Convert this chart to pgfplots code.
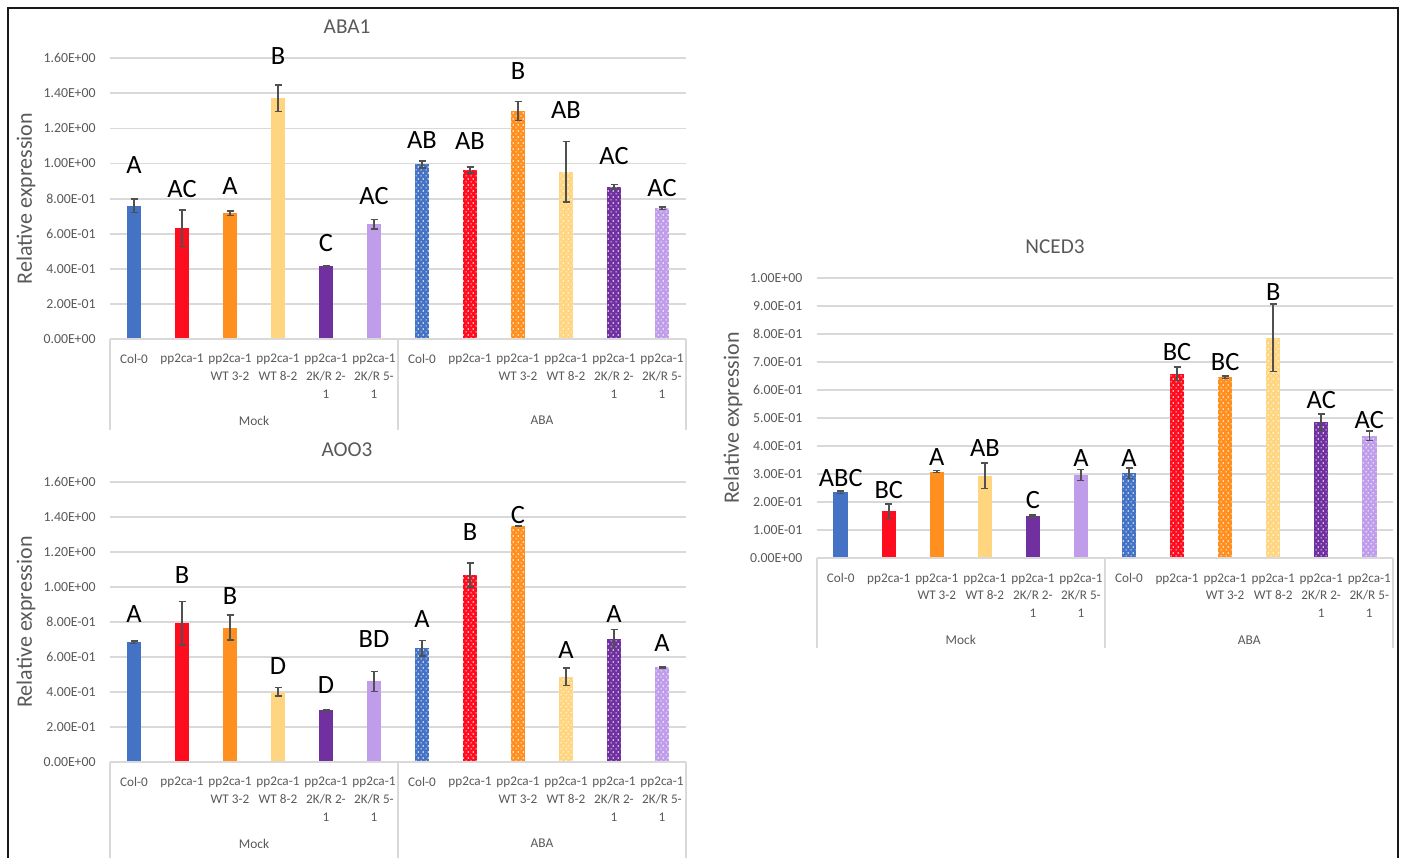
\documentclass[border=0pt]{standalone}
\usepackage{pgfplots}
\pgfplotsset{compat=1.18}
\usepackage{fontspec}
\setmainfont{Carlito}
\usetikzlibrary{patterns.meta}

\definecolor{cblue}{HTML}{4472C4}
\definecolor{cred}{HTML}{FF0D1E}
\definecolor{corange}{HTML}{FF8F1F}
\definecolor{cyellow}{HTML}{FFD580}
\definecolor{cpurple}{HTML}{7030A0}
\definecolor{clav}{HTML}{BF9DEB}
\definecolor{gridgray}{HTML}{D9D9D9}
\definecolor{txtgray}{HTML}{595959}
\definecolor{errgray}{HTML}{505050}

\newcommand{\tickfont}{\fontsize{6.9}{8}\selectfont}
\newcommand{\catfont}{\fontsize{6.6}{8.85}\selectfont}
\newcommand{\titfont}{\fontsize{10.6}{12}\selectfont}
\newcommand{\labfont}{\fontsize{11}{13}\selectfont}
\newcommand{\letfont}{\fontsize{13.2}{15}\selectfont}
\newcommand{\grpfont}{\fontsize{6.7}{8}\selectfont}

\pgfdeclarepattern{
  name=wdots,
  type=uncolored,
  bottom left={\pgfpoint{0pt}{0pt}},
  top right={\pgfpoint{2.5pt}{3.2pt}},
  tile size={\pgfpoint{2.5pt}{3.2pt}},
  code={
    \pgfpathrectangle{\pgfpoint{0.3pt}{0.3pt}}{\pgfpoint{0.65pt}{0.65pt}}
    \pgfpathrectangle{\pgfpoint{1.55pt}{1.9pt}}{\pgfpoint{0.65pt}{0.65pt}}
    \pgfusepath{fill}
  }
}

\pgfplotsset{
  mockbar/.style={ybar, bar width=7.25pt, bar shift=0pt, draw=none, fill=#1,
    /pgfplots/error bars/y dir=both, /pgfplots/error bars/y explicit},
  ababar/.style={postaction={pattern=wdots, pattern color=white}, mockbar=#1},
  letters/.style={draw=none, mark=none, nodes near coords, point meta=explicit symbolic,
    nodes near coords align={center},
    every node near coord/.append style={anchor=base, font=\letfont, text=black, inner sep=0pt}},
  excel/.style={
    scale only axis, width=288pt, height=140.35pt,
    xmin=-0.5, xmax=11.5, ymin=0,
    axis line style={draw=none},
    ymajorgrids, grid style={line width=0.9pt, gridgray},
    major tick length=0pt,
    xtick={0,...,11},
    xticklabels={Col-0, pp2ca-1, {pp2ca-1\\WT 3-2}, {pp2ca-1\\WT 8-2}, {pp2ca-1\\2K/R 2-\\1}, {pp2ca-1\\2K/R 5-\\1},
                 Col-0, pp2ca-1, {pp2ca-1\\WT 3-2}, {pp2ca-1\\WT 8-2}, {pp2ca-1\\2K/R 2-\\1}, {pp2ca-1\\2K/R 5-\\1}},
    xticklabel style={font=\catfont, text=txtgray, align=center, anchor=north, inner sep=0pt, yshift=-7.5pt},
    yticklabel style={font=\tickfont, text=txtgray, anchor=east, inner sep=0pt, xshift=-7pt},
    ylabel={Relative expression},
    ylabel style={font=\labfont, text=txtgray, at={(axis description cs:-0.146,0.5)}, anchor=center},
    every axis title shift=0pt,
    title style={font=\titfont, text=txtgray, anchor=center},
    clip=false,
    error bars/error bar style={line width=0.75pt, errgray},
    error bars/error mark options={rotate=90, mark size=1.75pt, line width=0.75pt, errgray},
  },
}

\newcommand{\decor}[1]{%
  \draw[gridgray, line width=0.9pt] (axis cs:-0.5,0) -- (axis cs:11.5,0);
  \draw[gridgray, line width=0.9pt] (axis cs:-0.5,0) -- ++(0pt,-#1);
  \draw[gridgray, line width=0.9pt] (axis cs:5.5,0) -- ++(0pt,-#1);
  \draw[gridgray, line width=0.9pt] (axis cs:11.5,0) -- ++(0pt,-#1);
  \node[font=\grpfont, text=txtgray, anchor=center] at ([yshift=-40.85pt]axis cs:2.5,0) {Mock};
  \node[font=\grpfont, text=txtgray, anchor=center] at ([yshift=-40.85pt]axis cs:8.5,0) {ABA};
}

\begin{document}
\begin{tikzpicture}

% ---------------- ABA1 ----------------
\begin{axis}[excel, at={(55pt,259pt)}, anchor=south west,
  ymax=1.6, ytick={0,0.2,0.4,0.6,0.8,1.0,1.2,1.4,1.6},
  yticklabels={0.00E+00,2.00E-01,4.00E-01,6.00E-01,8.00E-01,1.00E+00,1.20E+00,1.40E+00,1.60E+00},
  title={ABA1}, title style={at={(axis description cs:0.4115,1.1126)}}]
\addplot[mockbar=cblue]   coordinates {(0,0.760) +- (0,0.038)};
\addplot[mockbar=cred]    coordinates {(1,0.631) +- (0,0.105)};
\addplot[mockbar=corange] coordinates {(2,0.717) +- (0,0.012)};
\addplot[mockbar=cyellow] coordinates {(3,1.372) +- (0,0.076)};
\addplot[mockbar=cpurple] coordinates {(4,0.416) +- (0,0.004)};
\addplot[mockbar=clav]    coordinates {(5,0.654) +- (0,0.028)};
\addplot[ababar=cblue]    coordinates {(6,0.996) +- (0,0.020)};
\addplot[ababar=cred]     coordinates {(7,0.963) +- (0,0.016)};
\addplot[ababar=corange]  coordinates {(8,1.300) +- (0,0.055)};
\addplot[ababar=cyellow]  coordinates {(9,0.954) +- (0,0.173)};
\addplot[ababar=cpurple]  coordinates {(10,0.868) +- (0,0.013)};
\addplot[ababar=clav]     coordinates {(11,0.745) +- (0,0.008)};
\addplot[letters] coordinates {(0,0.941)[A] (1,0.804)[AC] (2,0.821)[A] (3,1.562)[B] (4,0.498)[C] (5,0.764)[AC]
  (6,1.087)[AB] (7,1.078)[AB] (8,1.477)[B] (9,1.258)[AB] (10,0.992)[AC] (11,0.811)[AC]};
\decor{45.5pt}
\end{axis}

% ---------------- AOO3 ----------------
\begin{axis}[excel, at={(55pt,47.65pt)}, anchor=south west, height=139.7pt,
  ymax=1.6, ytick={0,0.2,0.4,0.6,0.8,1.0,1.2,1.4,1.6},
  yticklabels={0.00E+00,2.00E-01,4.00E-01,6.00E-01,8.00E-01,1.00E+00,1.20E+00,1.40E+00,1.60E+00},
  title={AOO3}, title style={at={(axis description cs:0.4115,1.1156)}}]
\addplot[mockbar=cblue]   coordinates {(0,0.684) +- (0,0.006)};
\addplot[mockbar=cred]    coordinates {(1,0.793) +- (0,0.124)};
\addplot[mockbar=corange] coordinates {(2,0.768) +- (0,0.072)};
\addplot[mockbar=cyellow] coordinates {(3,0.400) +- (0,0.024)};
\addplot[mockbar=cpurple] coordinates {(4,0.295) +- (0,0.004)};
\addplot[mockbar=clav]    coordinates {(5,0.460) +- (0,0.057)};
\addplot[ababar=cblue]    coordinates {(6,0.649) +- (0,0.045)};
\addplot[ababar=cred]     coordinates {(7,1.069) +- (0,0.068)};
\addplot[ababar=corange]  coordinates {(8,1.350) +- (0,0.004)};
\addplot[ababar=cyellow]  coordinates {(9,0.487) +- (0,0.050)};
\addplot[ababar=cpurple]  coordinates {(10,0.703) +- (0,0.055)};
\addplot[ababar=clav]     coordinates {(11,0.541) +- (0,0.004)};
\addplot[letters] coordinates {(0,0.796)[A] (1,1.022)[B] (2,0.903)[B] (3,0.497)[D] (4,0.392)[D] (5,0.653)[BD]
  (6,0.770)[A] (7,1.266)[B] (8,1.365)[C] (9,0.592)[A] (10,0.796)[A] (11,0.630)[A]};
\decor{60pt}
\end{axis}

% ---------------- NCED3 ----------------
\begin{axis}[excel, at={(408.35pt,149.35pt)}, anchor=south west, width=288.3pt, height=140.3pt,
  ymax=1.0, ytick={0,0.1,0.2,0.3,0.4,0.5,0.6,0.7,0.8,0.9,1.0},
  yticklabels={0.00E+00,1.00E-01,2.00E-01,3.00E-01,4.00E-01,5.00E-01,6.00E-01,7.00E-01,8.00E-01,9.00E-01,1.00E+00},
  ylabel style={at={(axis description cs:-0.145,0.5)}},
  title={NCED3}, title style={at={(axis description cs:0.4133,1.1105)}}]
\addplot[mockbar=cblue]   coordinates {(0,0.235) +- (0,0.004)};
\addplot[mockbar=cred]    coordinates {(1,0.168) +- (0,0.026)};
\addplot[mockbar=corange] coordinates {(2,0.309) +- (0,0.004)};
\addplot[mockbar=cyellow] coordinates {(3,0.294) +- (0,0.045)};
\addplot[mockbar=cpurple] coordinates {(4,0.151) +- (0,0.004)};
\addplot[mockbar=clav]    coordinates {(5,0.297) +- (0,0.019)};
\addplot[ababar=cblue]    coordinates {(6,0.303) +- (0,0.018)};
\addplot[ababar=cred]     coordinates {(7,0.657) +- (0,0.024)};
\addplot[ababar=corange]  coordinates {(8,0.645) +- (0,0.004)};
\addplot[ababar=cyellow]  coordinates {(9,0.786) +- (0,0.121)};
\addplot[ababar=cpurple]  coordinates {(10,0.485) +- (0,0.030)};
\addplot[ababar=clav]     coordinates {(11,0.437) +- (0,0.017)};
\addplot[letters] coordinates {(0,0.255)[ABC] (1,0.214)[BC] (2,0.329)[A] (3,0.364)[AB] (4,0.178)[C] (5,0.326)[A]
  (6,0.326)[A] (7,0.706)[BC] (8,0.671)[BC] (9,0.920)[B] (10,0.534)[AC] (11,0.463)[AC]};
\decor{45pt}
\end{axis}

% frame
\draw[line width=1pt, black!90] (4pt,-2pt) -- (4pt,424.5pt) -- (699pt,424.5pt) -- (699pt,-2pt);

\pgfresetboundingbox
\path[use as bounding box] (0pt,0pt) rectangle (703pt,428.5pt);
\end{tikzpicture}
\end{document}
